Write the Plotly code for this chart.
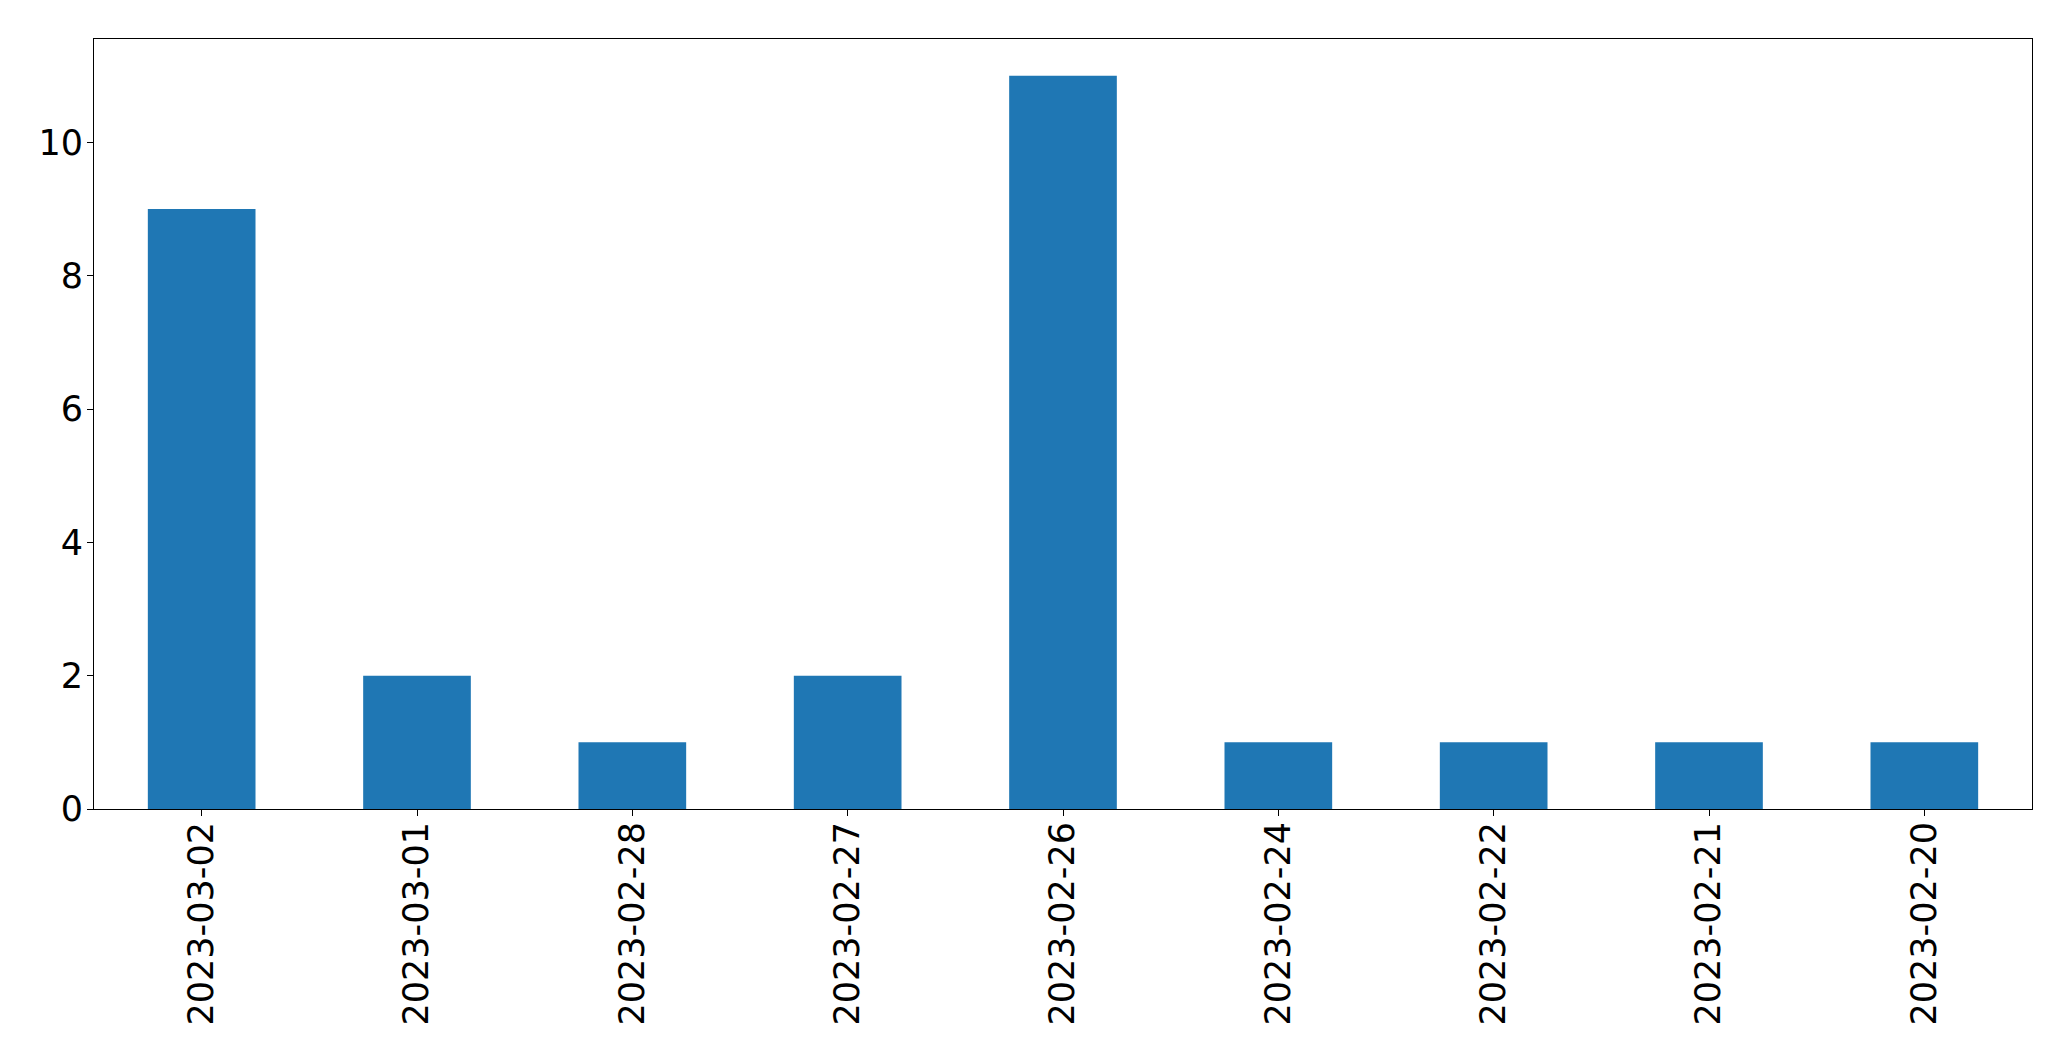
import plotly.graph_objects as go

dates = ["2023-03-02", "2023-03-01", "2023-02-28", "2023-02-27", "2023-02-26",
         "2023-02-24", "2023-02-22", "2023-02-21", "2023-02-20"]
counts = [9, 2, 1, 2, 11, 1, 1, 1, 1]
y_ticks = [0, 2, 4, 6, 8, 10]

fig = go.Figure(go.Bar(x=dates, y=counts, width=0.5, marker_color="#1f77b4",
                       marker_line_width=0))

axis_common = dict(showline=True, linecolor="black", linewidth=1.1, mirror=True,
                   ticks="outside", ticklen=6, tickwidth=1.1, tickcolor="black",
                   showgrid=False, zeroline=False,
                   tickfont=dict(family="DejaVu Sans", size=35, color="black"))

# page body has an 8px default margin; compensate so the plot box lands where intended
fig.update_layout(
    width=2055, height=1045,
    margin=dict(l=86, r=31, t=31, b=244, pad=0),
    paper_bgcolor="white", plot_bgcolor="white",
    showlegend=False,
    xaxis=dict(type="category", range=[-0.5, 8.5], tickangle=-90,
               ticklabelstandoff=-8, **axis_common),
    yaxis=dict(range=[0, 11.55], tickvals=y_ticks, ticklabelstandoff=-3,
               **axis_common),
)

fig.write_html("out.html")
